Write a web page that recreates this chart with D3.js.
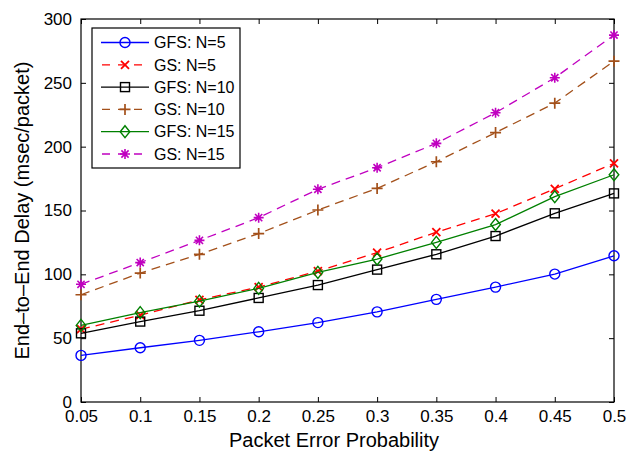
<!DOCTYPE html>
<html>
<head>
<meta charset="utf-8">
<script src="https://cdn.jsdelivr.net/npm/d3@7"></script>
<style>
  body { margin: 0; background: #fff; }
  svg { display: block; }
  text { font-family: "Liberation Sans", Arial, Helvetica, sans-serif; fill: #000; }
</style>
</head>
<body>
<svg id="chart" width="630" height="457"></svg>
<script>
// packet error probability on x
const probs = [0.05, 0.1, 0.15, 0.2, 0.25, 0.3, 0.35, 0.4, 0.45, 0.5];

// delays (msec/packet)
const gfsN5 = [36.5, 42.5, 48.3, 55, 62.2, 70.6, 80.4, 90, 100.2, 114.5];
const gsN5 = [57, 68, 80, 90, 102.5, 117, 133, 147.5, 167, 187];
const gfsN10 = [53.8, 63, 71.5, 81.5, 91.6, 103.7, 115.7, 130, 147.8, 163.4];
const gsN10 = [84, 101, 115.7, 131.9, 150.4, 167.3, 188.2, 211, 234.1, 267];
const gfsN15 = [60, 70, 79, 89, 101.5, 112, 125, 139, 160.8, 178];
const gsN15 = [92.2, 109.2, 126.6, 144.4, 166.6, 183.5, 202.6, 226.6, 254, 287.4];

const xTicks = [0.05, 0.1, 0.15, 0.2, 0.25, 0.3, 0.35, 0.4, 0.45, 0.5];
const yTicks = [0, 50, 100, 150, 200, 250, 300];

const series = [
  { name: "GFS: N=5", values: gfsN5, color: "#0000ff", dash: null, marker: "circle" },
  { name: "GS: N=5", values: gsN5, color: "#ff0000", dash: "9,6", marker: "x" },
  { name: "GFS: N=10", values: gfsN10, color: "#000000", dash: null, marker: "square" },
  { name: "GS: N=10", values: gsN10, color: "#a3501a", dash: "9,6", marker: "plus" },
  { name: "GFS: N=15", values: gfsN15, color: "#008000", dash: null, marker: "diamond" },
  { name: "GS: N=15", values: gsN15, color: "#c000c0", dash: "9,6", marker: "star" }
];

const margin = { top: 19, right: 16, bottom: 55, left: 81 };
const width = 630 - margin.left - margin.right;
const height = 457 - margin.top - margin.bottom;

const svg = d3.select("#chart");
const g = svg.append("g").attr("transform", `translate(${margin.left},${margin.top})`);

const x = d3.scaleLinear().domain([0.05, 0.5]).range([0, width]);
const y = d3.scaleLinear().domain([0, 300]).range([height, 0]);

// axes with inward ticks, MATLAB box style
const fmt = d => d3.format("")(+d.toFixed(2));
const xAxis = d3.axisBottom(x).tickValues(xTicks).tickSizeInner(-5).tickSizeOuter(0).tickPadding(8).tickFormat(fmt);
const yAxis = d3.axisLeft(y).tickValues(yTicks).tickSizeInner(-5).tickSizeOuter(0).tickPadding(9);
const xTop = d3.axisTop(x).tickValues(xTicks).tickSizeInner(-5).tickSizeOuter(0).tickFormat("");
const yRight = d3.axisRight(y).tickValues(yTicks).tickSizeInner(-5).tickSizeOuter(0).tickFormat("");

const styleAxis = sel => {
  sel.select(".domain").remove();
  sel.selectAll("line").attr("stroke", "#000").attr("stroke-width", 1);
  sel.selectAll("text").style("font-size", "17px").attr("fill", "#000");
};

g.append("g").attr("transform", `translate(0,${height})`).call(xAxis).call(styleAxis);
g.append("g").call(yAxis).call(styleAxis);
g.append("g").call(xTop).call(styleAxis);
g.append("g").attr("transform", `translate(${width},0)`).call(yRight).call(styleAxis);

g.append("rect")
  .attr("width", width).attr("height", height)
  .attr("fill", "none").attr("stroke", "#000").attr("stroke-width", 1.2);

// marker drawing
function drawMarker(sel, type, color) {
  const sw = 1.4;
  if (type === "circle") {
    sel.append("circle").attr("r", 5).attr("fill", "none").attr("stroke", color).attr("stroke-width", sw);
  } else if (type === "square") {
    sel.append("rect").attr("x", -4.5).attr("y", -4.5).attr("width", 9).attr("height", 9)
      .attr("fill", "none").attr("stroke", color).attr("stroke-width", sw);
  } else if (type === "diamond") {
    sel.append("path").attr("d", "M0,-6L4.8,0L0,6L-4.8,0Z")
      .attr("fill", "none").attr("stroke", color).attr("stroke-width", sw);
  } else if (type === "x") {
    sel.append("path").attr("d", "M-4,-4L4,4M-4,4L4,-4")
      .attr("fill", "none").attr("stroke", color).attr("stroke-width", sw + 0.4);
  } else if (type === "plus") {
    sel.append("path").attr("d", "M-5.5,0L5.5,0M0,-5.5L0,5.5")
      .attr("fill", "none").attr("stroke", color).attr("stroke-width", sw + 0.3);
  } else if (type === "star") {
    sel.append("path").attr("d", "M-5,0L5,0M0,-5L0,5M-3.6,-3.6L3.6,3.6M-3.6,3.6L3.6,-3.6")
      .attr("fill", "none").attr("stroke", color).attr("stroke-width", sw + 0.2);
  }
}

const line = d3.line().x((d, i) => x(probs[i])).y(d => y(d));

series.forEach(s => {
  g.append("path")
    .datum(s.values)
    .attr("d", line)
    .attr("fill", "none")
    .attr("stroke", s.color)
    .attr("stroke-width", 1.3)
    .attr("stroke-dasharray", s.dash);
  s.values.forEach((v, i) => {
    const m = g.append("g").attr("transform", `translate(${x(probs[i])},${y(v)})`);
    drawMarker(m, s.marker, s.color);
  });
});

// legend
const legend = svg.append("g").attr("transform", "translate(92,28)");
legend.append("rect")
  .attr("width", 148).attr("height", 140)
  .attr("fill", "#fff").attr("stroke", "#000").attr("stroke-width", 1.2);
series.forEach((s, i) => {
  const ry = 14.5 + i * 22.3;
  const row = legend.append("g").attr("transform", `translate(0,${ry})`);
  row.append("line")
    .attr("x1", 9).attr("x2", 57).attr("y1", 0).attr("y2", 0)
    .attr("stroke", s.color).attr("stroke-width", 1.3)
    .attr("stroke-dasharray", s.dash ? "8,8" : null)
    .attr("stroke-dashoffset", s.dash ? -1 : null);
  const m = row.append("g").attr("transform", "translate(33,0)");
  drawMarker(m, s.marker, s.color);
  row.append("text")
    .attr("x", 62).attr("y", 0).attr("dy", "0.36em")
    .style("font-size", "16px")
    .text(s.name);
});

// axis titles
svg.append("text")
  .attr("x", 334).attr("y", 447)
  .attr("text-anchor", "middle")
  .style("font-size", "20px")
  .text("Packet Error Probability");

svg.append("text")
  .attr("transform", `translate(29,${margin.top + height / 2}) rotate(-90)`)
  .attr("text-anchor", "middle")
  .style("font-size", "20px")
  .text("End\u2013to\u2013End Delay (msec/packet)");
</script>
</body>
</html>
